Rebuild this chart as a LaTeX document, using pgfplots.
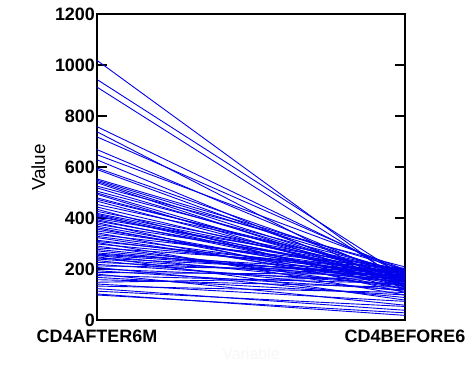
\documentclass[border=0pt]{standalone}
\usepackage{pgfplots}
\pgfplotsset{compat=1.18}
\usepackage{fontspec}
\setmainfont{Liberation Sans}
\tikzset{ln/.style={color=blue!92!black, line width=0.45pt, mark=none}}
\begin{document}
\begin{tikzpicture}
\path (-48.65pt,-15.75pt) rectangle (187.35pt,160.75pt);
\begin{axis}[
  scale only axis, width=154.5pt, height=153.5pt,
  xmin=0, xmax=1, ymin=0, ymax=1200,
  xtick={0,1}, xticklabels={CD4AFTER6M,CD4BEFORE6},
  xtick style={draw=none},
  ytick={0,200,400,600,800,1000,1200},
  tick align=inside, ytick pos=both,
  major tick length=5pt,
  axis line style={line width=1pt},
  ytick style={line width=1pt, black},
  tick label style={font=\bfseries\fontsize{9}{10}\selectfont},
  yticklabel style={xshift=2.5pt},
  /pgf/number format/assume math mode=true,
  /pgf/number format/1000 sep={},
  ylabel={Value}, ylabel style={font=\fontsize{9.5}{11}\selectfont, yshift=-2pt},
  xlabel={Variable}, xlabel style={font=\fontsize{8}{9}\selectfont, text=black!3, yshift=4pt},
  xticklabel style={yshift=-1pt},
]
\addplot[ln] coordinates {(0,1020) (1,140)};
\addplot[ln] coordinates {(0,945) (1,170)};
\addplot[ln] coordinates {(0,915) (1,150)};
\addplot[ln] coordinates {(0,760) (1,180)};
\addplot[ln] coordinates {(0,740) (1,120)};
\addplot[ln] coordinates {(0,720) (1,190)};
\addplot[ln] coordinates {(0,670) (1,160)};
\addplot[ln] coordinates {(0,650) (1,200)};
\addplot[ln] coordinates {(0,630) (1,130)};
\addplot[ln] coordinates {(0,598) (1,175)};
\addplot[ln] coordinates {(0,592) (1,150)};
\addplot[ln] coordinates {(0,555) (1,200)};
\addplot[ln] coordinates {(0,550) (1,185)};
\addplot[ln] coordinates {(0,545) (1,160)};
\addplot[ln] coordinates {(0,540) (1,140)};
\addplot[ln] coordinates {(0,527) (1,210)};
\addplot[ln] coordinates {(0,520) (1,165)};
\addplot[ln] coordinates {(0,507) (1,190)};
\addplot[ln] coordinates {(0,500) (1,150)};
\addplot[ln] coordinates {(0,495) (1,130)};
\addplot[ln] coordinates {(0,481) (1,170)};
\addplot[ln] coordinates {(0,475) (1,185)};
\addplot[ln] coordinates {(0,468) (1,150)};
\addplot[ln] coordinates {(0,455) (1,195)};
\addplot[ln] coordinates {(0,445) (1,160)};
\addplot[ln] coordinates {(0,436) (1,120)};
\addplot[ln] coordinates {(0,428) (1,190)};
\addplot[ln] coordinates {(0,420) (1,180)};
\addplot[ln] coordinates {(0,416) (1,160)};
\addplot[ln] coordinates {(0,412) (1,140)};
\addplot[ln] coordinates {(0,408) (1,170)};
\addplot[ln] coordinates {(0,400) (1,200)};
\addplot[ln] coordinates {(0,395) (1,150)};
\addplot[ln] coordinates {(0,390) (1,175)};
\addplot[ln] coordinates {(0,384) (1,110)};
\addplot[ln] coordinates {(0,377) (1,190)};
\addplot[ln] coordinates {(0,370) (1,155)};
\addplot[ln] coordinates {(0,364) (1,135)};
\addplot[ln] coordinates {(0,358) (1,165)};
\addplot[ln] coordinates {(0,351) (1,180)};
\addplot[ln] coordinates {(0,344) (1,125)};
\addplot[ln] coordinates {(0,337) (1,200)};
\addplot[ln] coordinates {(0,330) (1,170)};
\addplot[ln] coordinates {(0,325) (1,145)};
\addplot[ln] coordinates {(0,315) (1,165)};
\addplot[ln] coordinates {(0,310) (1,190)};
\addplot[ln] coordinates {(0,306) (1,100)};
\addplot[ln] coordinates {(0,300) (1,185)};
\addplot[ln] coordinates {(0,292) (1,125)};
\addplot[ln] coordinates {(0,285) (1,205)};
\addplot[ln] coordinates {(0,279) (1,160)};
\addplot[ln] coordinates {(0,273) (1,150)};
\addplot[ln] coordinates {(0,265) (1,170)};
\addplot[ln] coordinates {(0,260) (1,190)};
\addplot[ln] coordinates {(0,257) (1,175)};
\addplot[ln] coordinates {(0,255) (1,135)};
\addplot[ln] coordinates {(0,250) (1,80)};
\addplot[ln] coordinates {(0,245) (1,185)};
\addplot[ln] coordinates {(0,241) (1,160)};
\addplot[ln] coordinates {(0,235) (1,115)};
\addplot[ln] coordinates {(0,228) (1,175)};
\addplot[ln] coordinates {(0,220) (1,140)};
\addplot[ln] coordinates {(0,214) (1,195)};
\addplot[ln] coordinates {(0,208) (1,90)};
\addplot[ln] coordinates {(0,202) (1,155)};
\addplot[ln] coordinates {(0,195) (1,120)};
\addplot[ln] coordinates {(0,188) (1,180)};
\addplot[ln] coordinates {(0,182) (1,60)};
\addplot[ln] coordinates {(0,176) (1,145)};
\addplot[ln] coordinates {(0,169) (1,100)};
\addplot[ln] coordinates {(0,160) (1,130)};
\addplot[ln] coordinates {(0,150) (1,170)};
\addplot[ln] coordinates {(0,143) (1,75)};
\addplot[ln] coordinates {(0,135) (1,110)};
\addplot[ln] coordinates {(0,125) (1,40)};
\addplot[ln] coordinates {(0,115) (1,55)};
\addplot[ln] coordinates {(0,104) (1,20)};
\addplot[ln] coordinates {(0,100) (1,30)};
\end{axis}
\end{tikzpicture}
\end{document}
